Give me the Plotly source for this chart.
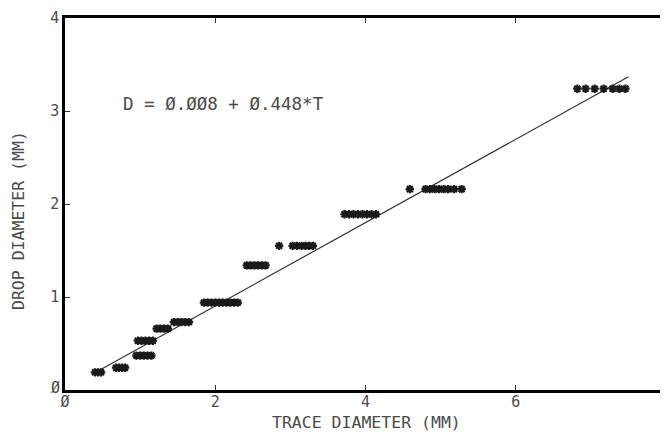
import plotly.graph_objects as go

# Data (trace diameter T vs drop diameter D, in mm)
rows_d = [0.19, 0.24, 0.37, 0.53, 0.66, 0.73, 0.94, 1.34, 1.55, 1.89, 2.16, 3.24]
rows_t = [
    [0.40, 0.44, 0.48],
    [0.68, 0.72, 0.76, 0.80],
    [0.95, 1.00, 1.05, 1.10, 1.15],
    [0.97, 1.02, 1.07, 1.12, 1.17],
    [1.22, 1.27, 1.32, 1.37],
    [1.45, 1.50, 1.55, 1.60, 1.65],
    [1.85, 1.90, 1.95, 2.00, 2.05, 2.10, 2.15, 2.20, 2.25, 2.30],
    [2.42, 2.47, 2.52, 2.57, 2.62, 2.67],
    [2.85, 3.03, 3.09, 3.15, 3.20, 3.25, 3.30],
    [3.72, 3.78, 3.84, 3.90, 3.96, 4.02, 4.08, 4.14],
    [4.59, 4.80, 4.86, 4.92, 4.98, 5.04, 5.10, 5.18, 5.28],
    [6.82, 6.93, 7.05, 7.17, 7.29, 7.38, 7.46],
]
fit_intercept = 0.008
fit_slope = 0.448
fit_range = [0.44, 7.5]

x_tickvals = [0, 2, 4, 6, 8]
x_ticktext = ["Ø", "2", "4", "6", "8"]
y_tickvals = [0, 1, 2, 3, 4]
y_ticktext = ["", "1", "2", "3", "4"]

xs, ys = [], []
for d, ts in zip(rows_d, rows_t):
    for t in ts:
        xs.append(t)
        ys.append(d)

fit_x = fit_range
fit_y = [fit_intercept + fit_slope * t for t in fit_range]

FONT = "DejaVu Sans Mono"
TXT = "#4a4a4a"

fig = go.Figure()
fig.add_trace(go.Scatter(
    x=fit_x, y=fit_y, mode="lines",
    line=dict(color="#333333", width=1.2), showlegend=False, hoverinfo="skip"))
fig.add_trace(go.Scatter(
    x=xs, y=ys, mode="markers",
    marker=dict(symbol="asterisk-open", size=7, color="#1a1a1a",
                line=dict(color="#1a1a1a", width=2.2)),
    showlegend=False))

fig.add_annotation(x=0.74, y=3.08, xref="x", yref="y", xanchor="left", yanchor="middle",
                   text="D = Ø.ØØ8 + Ø.448*T", showarrow=False,
                   font=dict(family=FONT, size=17.5, color=TXT))
fig.add_annotation(x=0, y=0, xref="x", yref="y", xanchor="right", yanchor="middle",
                   xshift=-3, yshift=2, text="Ø", showarrow=False,
                   font=dict(family=FONT, size=15, color=TXT))
fig.add_annotation(x=0.5, y=0, xref="paper", yref="paper", xanchor="center", yanchor="middle",
                   yshift=-32, xshift=1, text="TRACE DIAMETER (MM)", showarrow=False,
                   font=dict(family=FONT, size=16.5, color=TXT))
fig.add_annotation(x=0, y=0.5, xref="paper", yref="paper", xanchor="center", yanchor="middle",
                   xshift=-47, yshift=-17, text="DROP DIAMETER (MM)", textangle=-90,
                   showarrow=False, font=dict(family=FONT, size=16.5, color=TXT))

# The page body has an 8px default margin, so the figure is 8px smaller on each axis
fig.update_layout(
    width=660, height=424,
    margin=dict(l=57, r=2, t=10, b=42, autoexpand=False),
    paper_bgcolor="white", plot_bgcolor="white",
    font=dict(family=FONT, color=TXT, size=15),
    xaxis=dict(range=[0, 8], tickvals=x_tickvals, ticktext=x_ticktext,
               showgrid=False, zeroline=False, showline=True, linecolor="black",
               linewidth=2.5, mirror="ticks", ticks="inside", ticklen=5,
               tickcolor="#333", tickfont=dict(family=FONT, size=15, color=TXT),
               automargin=False, ticklabelstandoff=-4, ticklabeloverflow="allow"),
    yaxis=dict(range=[0, 4], tickvals=y_tickvals, ticktext=y_ticktext,
               showgrid=False, zeroline=False, showline=True, linecolor="black",
               linewidth=2.5, mirror="ticks", ticks="inside", ticklen=5,
               tickcolor="#333", tickfont=dict(family=FONT, size=15, color=TXT),
               automargin=False, ticklabeloverflow="allow"),
)

fig.write_html("out.html")
